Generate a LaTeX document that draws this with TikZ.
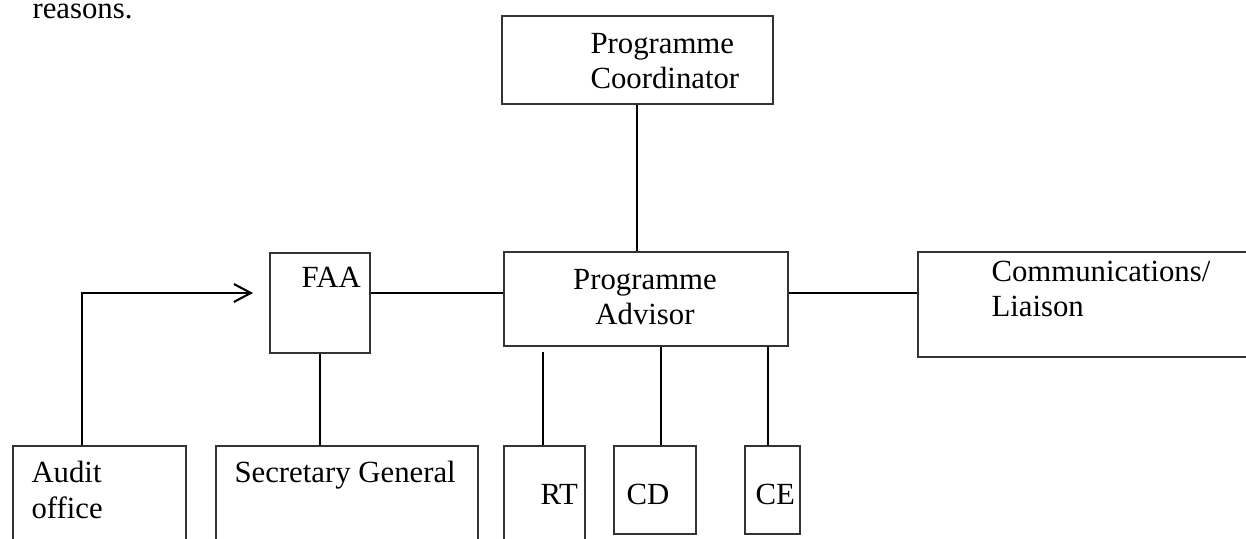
\documentclass[tikz,border=0pt]{standalone}
\usepackage{fontspec}
\setmainfont{Liberation Serif}
\usetikzlibrary{calc}
\usetikzlibrary{arrows.meta}

\begin{document}
\begin{tikzpicture}[x=0.39pt, y=-0.39pt,
        box/.style={draw=black!80, line width=0.6pt, inner sep=0pt, anchor=north west},
        sz/.style 2 args={minimum width=#1*0.39pt, minimum height=#2*0.39pt},
        lbl/.style={anchor=base west, inner sep=0pt, align=left, font=\fontsize{12pt}{14pt}\selectfont},
        link/.style={line width=0.8pt}]
            \useasboundingbox (0,0) rectangle (1246,539);
            \clip (0,0) rectangle (1246,539);

            % Text above the chart
            \node[lbl] (reasons) at (32,19) {reasons.};

            % Top level (base = last line)
            \node[box, sz={271}{88}] (coord) at (501,15) {};
            \node[lbl] (tcoord) at (590,89) {Programme\\Coordinator};

            % Middle row
            \node[box, sz={100}{100}] (faa) at (269,252) {};
            \node[lbl] (tfaa) at (301,288) {FAA};
            \node[box, sz={284}{94}] (adv) at (503,251) {};
            \node[lbl, align=center, anchor=base] (tadv) at (645,325) {Programme\\Advisor};
            \node[box, sz={343}{105}] (comm) at (917,251) {};
            \node[lbl] (tcomm) at (991,317) {Communications/\\Liaison};

            % Bottom row
            \node[box, sz={173}{120}] (audit) at (12,445) {};
            \node[lbl] (taudit) at (31,518) {Audit\\office};
            \node[box, sz={262}{120}] (secgen) at (215,445) {};
            \node[lbl] (tsecgen) at (234,483) {Secretary General};
            \node[box, sz={81}{120}] (rt) at (503,445) {};
            \node[lbl] (trt) at (540,504) {RT};
            \node[box, sz={82}{88}] (cd) at (613,445) {};
            \node[lbl] (tcd) at (626,504) {CD};
            \node[box, sz={55}{88}] (ce) at (744,445) {};
            \node[lbl] (tce) at (755,504) {CE};

            % Connectors
            \coordinate (mid) at (0,293);
            \coordinate (rttop) at (543,352);
            \draw[link] (coord.south) -- (coord.south |- adv.north);
            \draw[link] (faa.east |- mid) -- (adv.west |- mid);
            \draw[link] (adv.east |- mid) -- (comm.west |- mid);
            \draw[link] (faa.south) -- (faa.south |- secgen.north);
            \draw[link, -{Straight Barb[length=6.6pt,width=7pt]}] ($(audit.north)+(-17.5,0)$) |- ($(faa.west |- mid)+(-16,0)$);
            \draw[link] (rttop) -- (rttop |- rt.north);
            \draw[link] (661,0 |- adv.south) -- (661,0 |- cd.north);
            \draw[link] (768,0 |- adv.south) -- (768,0 |- ce.north);
        \end{tikzpicture}
\end{document}
